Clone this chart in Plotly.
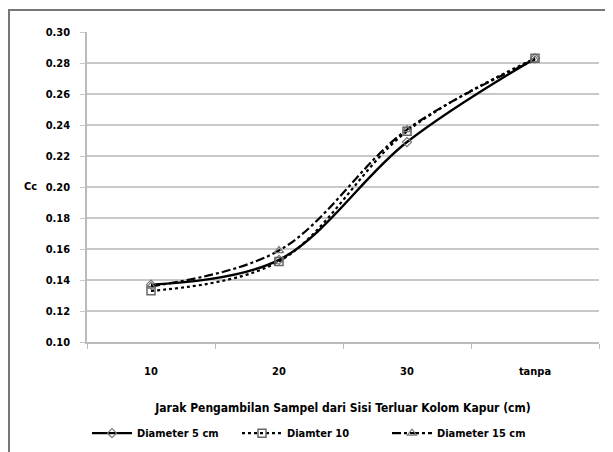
import plotly.graph_objects as go

categories = ["10", "20", "30", "tanpa"]
d5 = [0.137, 0.153, 0.229, 0.283]
d10 = [0.133, 0.152, 0.236, 0.283]
d15 = [0.136, 0.159, 0.237, 0.282]
yticks = [0.10, 0.12, 0.14, 0.16, 0.18, 0.20, 0.22, 0.24, 0.26, 0.28, 0.30]

FONT = "DejaVu Sans Condensed"

fig = go.Figure()
fig.add_trace(go.Scatter(
    x=categories, y=d5, name="Diameter 5 cm", mode="lines+markers",
    line=dict(color="black", width=2.4, shape="spline", smoothing=1),
    marker=dict(symbol="diamond-open", size=7, color="#777", line=dict(width=1.2, color="#777")),
))
fig.add_trace(go.Scatter(
    x=categories, y=d10, name="Diamter 10", mode="lines+markers",
    line=dict(color="black", width=2.2, dash="dot", shape="spline", smoothing=1),
    marker=dict(symbol="square-open", size=8, color="#666", line=dict(width=1.5, color="#666")),
))
fig.add_trace(go.Scatter(
    x=categories, y=d15, name="Diameter 15 cm", mode="lines+markers",
    line=dict(color="black", width=2.2, dash="dashdot", shape="spline", smoothing=1),
    marker=dict(symbol="triangle-up-open", size=8, color="#777", line=dict(width=1.2, color="#777")),
))

fig.update_layout(
    width=613, height=452,
    margin=dict(l=79, r=22, t=24, b=118),
    paper_bgcolor="white", plot_bgcolor="white",
    font=dict(family=FONT, size=11, color="black"),
    showlegend=True,
    legend=dict(orientation="h", x=0.0, xanchor="left", y=-0.294, yanchor="middle",
                font=dict(family=FONT, size=11, color="black", weight="bold"),
                itemwidth=40, entrywidth=95, entrywidthmode="pixels",
                tracegroupgap=0, bgcolor="rgba(0,0,0,0)"),
    xaxis=dict(
        type="category", showgrid=False, showline=True, linecolor="#bbb", linewidth=1.5,
        ticks="outside", tickson="boundaries", ticklen=5, tickcolor="#bbb",
        ticklabelstandoff=18,
        tickfont=dict(family=FONT, size=11, color="black", weight="bold"),
        title=dict(text="Jarak Pengambilan Sampel dari Sisi Terluar Kolom Kapur (cm)",
                   font=dict(family=FONT, size=12, color="black", weight="bold"), standoff=27),
        range=[-0.5, 3.5], fixedrange=True,
    ),
    yaxis=dict(
        range=[0.10, 0.30], tickvals=yticks, tickformat=".2f",
        showgrid=True, gridcolor="#c8c8c8", gridwidth=1.5,
        showline=True, linecolor="#bbb", linewidth=1.5,
        ticks="outside", ticklen=5, tickcolor="#c8c8c8",
        ticklabelstandoff=8,
        tickfont=dict(family=FONT, size=11, color="black", weight="bold"),
        zeroline=False,
    ),
    annotations=[dict(text="Cc", xref="paper", yref="paper", x=(22 - 87) / 512, y=(342 - 186) / 310,
                      showarrow=False, font=dict(family=FONT, size=11, color="black", weight="bold"))],
    shapes=[dict(type="rect", xref="paper", yref="paper",
                 x0=(9 - 87) / 512, x1=1.2, y0=-0.6, y1=(342 - 10) / 310,
                 line=dict(color="#777", width=2), layer="above")],
)

fig.write_html("out.html")
